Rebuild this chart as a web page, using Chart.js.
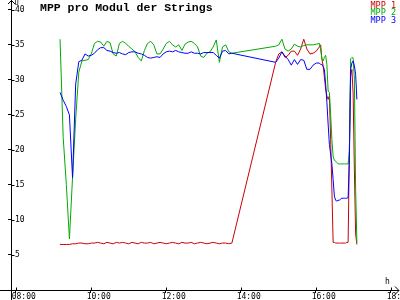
<!DOCTYPE html>
<html>
<head>
<meta charset="utf-8">
<script src="https://cdn.jsdelivr.net/npm/chart.js@4/dist/chart.umd.min.js"></script>
<style>
html,body{margin:0;padding:0;background:#fff;}
canvas{display:block;}
</style>
</head>
<body>
<canvas id="c" width="400" height="300"></canvas>
<script>
// ---- data ----
const chartTitle = "MPP pro Modul der Strings";
const seriesNames = ["MPP 1", "MPP 2", "MPP 3"];
const seriesColors = ["#cc0000", "#00aa00", "#0000ff"];
const yAxisLabel = "U";
const xAxisLabel = "h";
const xTickValues = [8, 10, 12, 14, 16, 18];
const xTickLabels = ["08:00", "10:00", "12:00", "14:00", "16:00", "18:00"];
const yTickValues = [5, 10, 15, 20, 25, 30, 35, 40];

const times = [
  "09:11","09:16","09:21","09:26","09:31","09:36","09:41","09:46","09:51","09:56",
  "10:01","10:06","10:11","10:16","10:21","10:26","10:31","10:36","10:41","10:46","10:51","10:56",
  "11:01","11:06","11:11","11:16","11:21","11:26","11:31","11:36","11:41","11:46","11:51","11:56",
  "12:01","12:06","12:11","12:16","12:21","12:26","12:31","12:36","12:41","12:46","12:51","12:56",
  "13:01","13:06","13:11","13:16","13:21","13:26","13:31","13:36","13:41","13:46",
  "14:56","15:01","15:06","15:11","15:16","15:21","15:26","15:31","15:36","15:41","15:46","15:51","15:56","16:01","16:06",
  "16:08","16:10","16:12","16:14","16:16","16:18","16:20","16:22","16:24","16:26","16:28","16:30","16:32","16:34","16:36",
  "16:38","16:40","16:42","16:44","16:46","16:48","16:50","16:52","16:54","16:56","16:58","17:00","17:02","17:04","17:06"
];

const mpp1 = [
  6.5,6.5,6.5,6.5,6.6,6.6,6.7,6.7,6.6,6.6,
  6.7,6.7,6.8,6.7,6.6,6.8,6.7,6.6,6.8,6.7,6.8,6.7,
  6.6,6.8,6.7,6.6,6.8,6.7,6.7,6.8,6.6,6.7,6.8,6.7,
  6.6,6.7,6.8,6.7,6.6,6.8,6.7,6.7,6.8,6.6,6.7,6.8,
  6.7,6.6,6.7,6.8,6.7,6.6,6.7,6.7,6.6,6.7,
  32.5,33.7,34.0,33.2,33.5,34.1,34.1,33.5,34.4,35.8,34.4,33.7,33.8,34.1,34.7,
  35.0,33.0,32.0,30.4,28.7,27.7,27.2,27.7,21.5,14.4,6.8,6.8,6.7,6.7,6.7,
  6.7,6.7,6.7,6.7,6.7,6.7,6.8,6.8,20.0,30.5,31.5,28.0,17.0,8.0,6.5
];
const mpp2 = [
  35.8,21.8,15.1,7.3,16.1,24.4,31.1,32.7,32.8,32.9,
  33.7,35.2,35.5,35.4,34.8,35.5,35.3,33.7,33.4,35.2,35.5,35.2,
  34.8,34.4,34.0,33.2,32.7,34.2,35.2,35.5,35.0,33.7,33.7,34.4,
  35.2,35.5,35.0,34.7,35.0,34.2,35.1,35.4,35.5,35.2,34.7,33.4,
  33.2,33.8,34.0,34.7,35.7,32.5,34.7,35.0,34.0,33.8,
  34.8,35.0,35.8,34.4,34.1,34.4,35.1,34.8,34.7,34.9,35.0,35.0,35.0,35.1,35.2,
  34.4,33.0,32.7,33.2,33.5,32.2,28.4,28.2,25.1,21.5,19.1,18.5,18.4,18.2,18.0,
  18.0,18.0,18.0,18.0,18.0,18.0,18.0,18.0,19.8,33.0,33.2,33.1,30.1,14.4,6.8
];
const mpp3 = [
  28.2,27.1,26.2,25.0,16.0,29.4,32.6,32.8,33.7,33.4,
  33.5,33.8,34.3,34.6,34.6,34.2,34.1,33.9,33.8,33.9,33.7,33.6,
  33.9,34.0,34.0,33.8,33.7,33.5,33.2,33.1,33.2,33.3,33.2,33.7,
  34.0,34.1,34.0,34.2,34.0,33.9,33.8,33.8,34.0,33.8,33.8,33.7,
  33.9,33.9,33.9,33.9,33.5,33.1,34.1,34.2,33.7,33.8,
  32.5,33.1,34.0,33.4,32.9,32.1,32.9,32.2,32.9,32.8,31.5,31.5,32.1,32.4,32.4,
  32.2,32.2,31.9,31.5,29.4,26.8,23.7,20.8,19.4,18.0,15.8,13.4,12.8,12.7,12.8,
  12.8,13.0,13.1,13.1,13.1,13.1,13.1,13.2,18.7,31.5,32.4,32.7,32.0,30.8,27.2
];

// ---- build ----
function toHours(t){ const p = t.split(":"); return +p[0] + (+p[1])/60; }
const seriesValues = [mpp1, mpp2, mpp3];
const datasets = seriesValues.map((vals, i) => ({
  label: seriesNames[i],
  data: times.map((t, j) => ({x: toHours(t), y: vals[j]})),
  borderColor: seriesColors[i],
  backgroundColor: seriesColors[i],
  borderWidth: 1,
  pointRadius: 0,
  tension: 0,
  fill: false,
  order: 2 - i
}));

const MONO = "'DejaVu Sans Mono', 'Liberation Mono', monospace";

function zeroPad(s) { s.paddingLeft = 0; s.paddingRight = 0; s.paddingTop = 0; s.paddingBottom = 0; }

const decor = {
  id: 'decor',
  afterDraw(chart) {
    const ctx = chart.ctx;
    const xs = chart.scales.x, ys = chart.scales.y;
    const ax = Math.round(xs.left) + 0.5;
    const ay = Math.round(ys.bottom) + 0.5;
    ctx.save();
    ctx.strokeStyle = '#000';
    ctx.lineWidth = 1;
    ctx.beginPath();
    ctx.moveTo(ax, 0); ctx.lineTo(ax, 300);
    ctx.moveTo(0, ay); ctx.lineTo(399, ay);
    ctx.moveTo(ax - 3.5, 4); ctx.lineTo(ax, 0.5); ctx.lineTo(ax + 3.5, 4);
    ctx.moveTo(395, ay - 4); ctx.lineTo(399, ay); ctx.lineTo(395, ay + 4);
    yTickValues.forEach(v => { const py = Math.round(ys.getPixelForValue(v)) + 0.5; ctx.moveTo(ax, py); ctx.lineTo(ax + 3, py); });
    xTickValues.forEach(v => { const px = Math.round(xs.getPixelForValue(v)) + 0.5; ctx.moveTo(px, ay); ctx.lineTo(px, ay - 3); });
    ctx.stroke();
    ctx.fillStyle = '#000';
    ctx.font = "7px " + MONO;
    ctx.textBaseline = 'top';
    ctx.textAlign = 'left';
    ctx.fillText(yAxisLabel, ax + 3, 0);
    ctx.font = "8px " + MONO;
    ctx.fillText(xAxisLabel, 385, 278);
    ctx.font = "bold 11.5px 'Liberation Mono', " + MONO;
    ctx.textBaseline = 'alphabetic';
    ctx.fillText(chartTitle, 40, 11);
    ctx.font = "8.5px " + MONO;
    ctx.textAlign = 'right';
    chart.data.datasets.forEach((d, i) => {
      ctx.fillStyle = d.borderColor;
      ctx.fillText(d.label, 396, 7.5 + i * 7.7);
    });
    ctx.restore();
  }
};

new Chart(document.getElementById('c'), {
  type: 'line',
  data: { datasets },
  options: {
    responsive: false,
    animation: false,
    devicePixelRatio: 1,
    layout: { padding: { left: 4, right: 3, top: 0, bottom: 0 }, autoPadding: false },
    plugins: { legend: { display: false }, title: { display: false }, tooltip: { enabled: false } },
    scales: {
      x: {
        type: 'linear',
        min: 7.875,
        max: 18.17,
        afterBuildTicks: s => { s.ticks = xTickValues.map(v => ({ value: v })); },
        afterFit: s => { s.height = 10; zeroPad(s); },
        border: { display: true, color: '#000', width: 1 },
        grid: { drawOnChartArea: false, tickLength: 3, tickColor: '#000', color: '#000' },
        ticks: {
          align: 'start', labelOffset: -4, padding: 0, color: '#000', autoSkip: false, maxRotation: 0,
          font: { family: MONO, size: 8, lineHeight: 1 },
          callback: v => { const i = xTickValues.indexOf(v); return i >= 0 ? xTickLabels[i] : ''; }
        }
      },
      y: {
        min: 0,
        max: 41.4,
        afterBuildTicks: s => { s.ticks = yTickValues.map(v => ({ value: v })); },
        afterFit: s => { s.width = 7; zeroPad(s); },
        border: { display: true, color: '#000', width: 1 },
        grid: { drawOnChartArea: false, tickLength: 3, tickColor: '#000', color: '#000' },
        ticks: {
          mirror: true, padding: 4, color: '#000',
          font: { family: MONO, size: 8, lineHeight: 1 },
          callback: v => String(v)
        }
      }
    }
  },
  plugins: [decor]
});
</script>
</body>
</html>
